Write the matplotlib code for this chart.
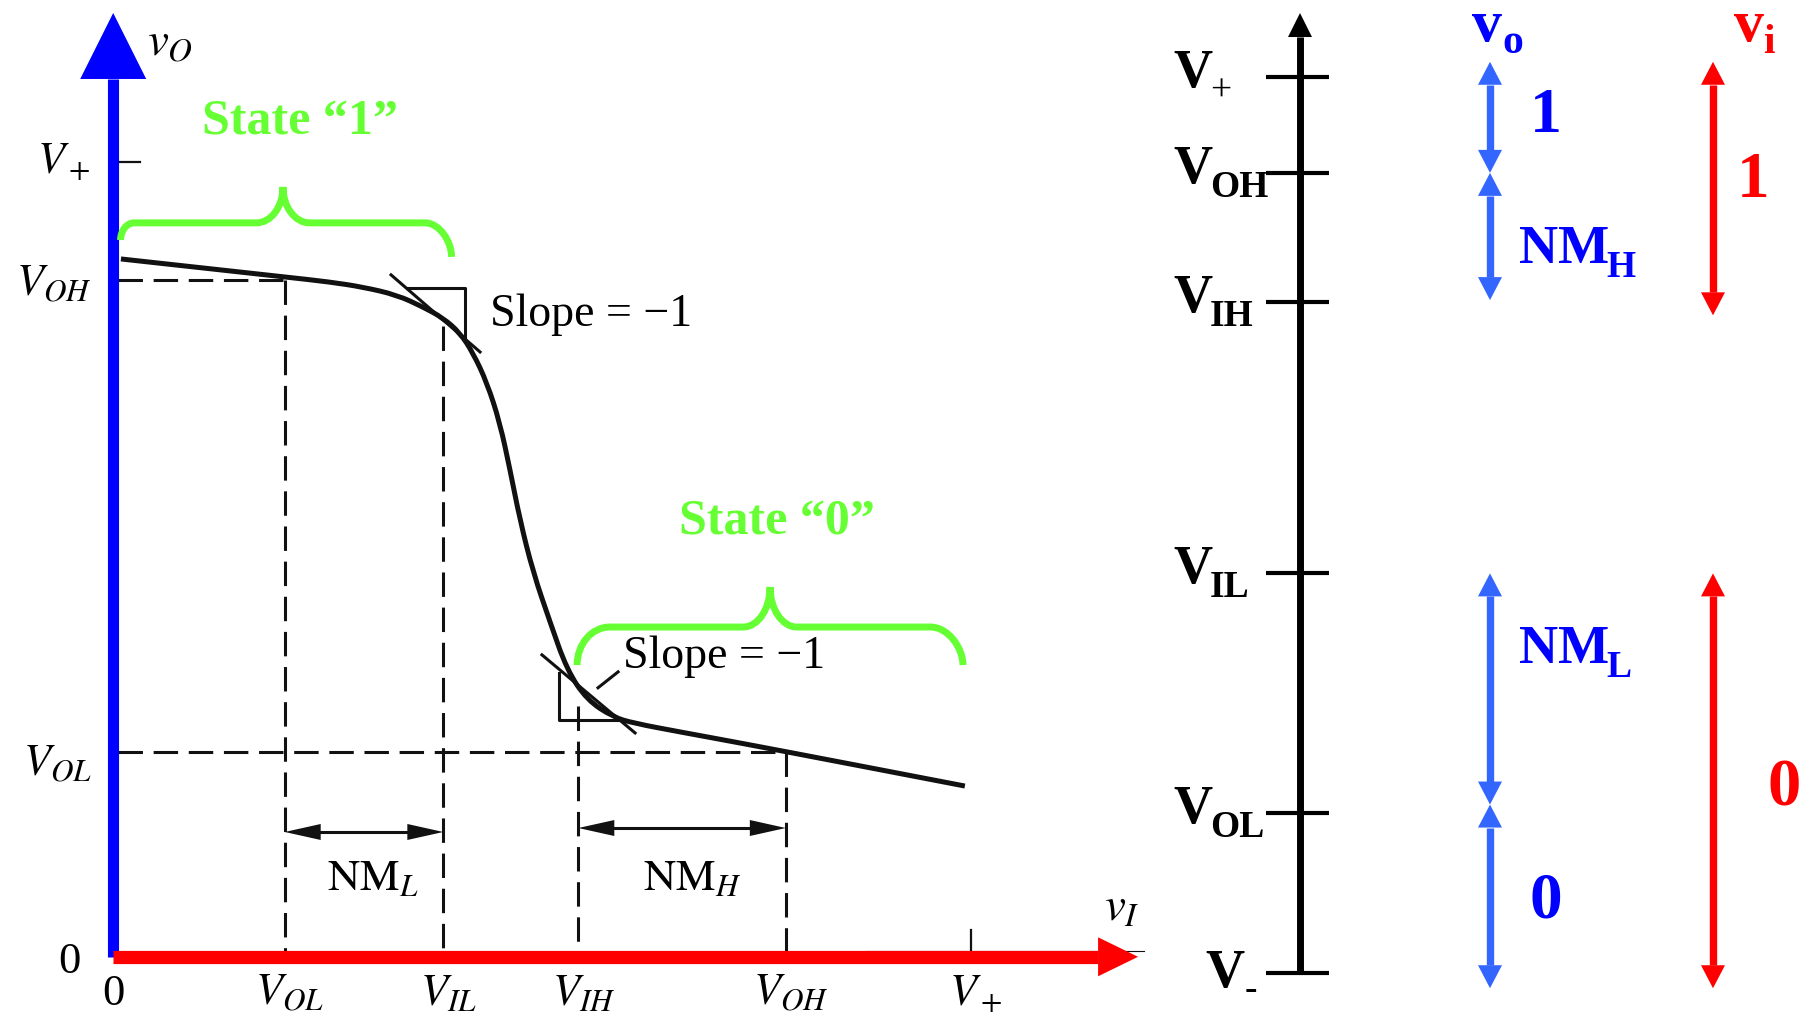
import matplotlib
matplotlib.use('Agg')
import matplotlib.pyplot as plt
from matplotlib.path import Path
from matplotlib.patches import PathPatch

plt.rcParams['mathtext.fontset'] = 'stix'

# ---------------- data: transfer characteristic (volts, V+ = 5) ----------------
V_PLUS = 5.0
V_OL_X, V_IL, V_IH, V_OH_X = 1.0, 1.925, 2.712, 3.922
V_OH_Y, V_OL_Y = 4.257, 1.285

curve_vi = [0.045, 1.008, 1.264, 1.457, 1.655, 1.806, 1.923, 2.022, 2.098, 2.180, 2.255, 2.314,
            2.372, 2.448, 2.547, 2.646, 2.763, 2.915, 3.032, 3.306, 3.655, 4.239, 4.966]
curve_vo = [4.389, 4.275, 4.244, 4.212, 4.162, 4.087, 4.018, 3.924, 3.798, 3.609, 3.357, 3.062,
            2.747, 2.420, 2.106, 1.804, 1.615, 1.508, 1.470, 1.414, 1.345, 1.225, 1.074]

x_tick_pos = [0.0, V_OL_X, V_IL, V_IH, V_OH_X, V_PLUS]
x_tick_labels = ['0', r'$V_{OL}$', r'$V_{IL}$', r'$V_{IH}$', r'$V_{OH}$', r'$V_+$']
y_tick_pos = [0.0, V_OL_Y, V_OH_Y, V_PLUS]
y_tick_labels = ['0', r'$V_{OL}$', r'$V_{OH}$', r'$V_+$']

# slope = -1 construction
tan_up_x, tan_up_y = [1.620, 2.139], [4.289, 3.804]
sq_up_x, sq_up_y = [1.713, 2.051, 2.051], [4.206, 4.206, 3.899]
tan_lo_x, tan_lo_y = [2.50, 3.043], [1.899, 1.408]
sq_lo_x, sq_lo_y = [2.601, 2.601, 2.955], [1.783, 1.489, 1.489]
leader_x, leader_y = [2.827, 2.944], [1.692, 1.792]

# dashed guide lines: (x0, y0, x1, y1)
dashed = [(0.03, V_OH_Y, V_OL_X, V_OH_Y),
          (0.03, V_OL_Y, V_OH_X, V_OL_Y),
          (V_OL_X, V_OH_Y, V_OL_X, 0.0),
          (V_IL, 3.97, V_IL, 0.0),
          (V_IH, 1.58, V_IH, 0.0),
          (V_OH_X, V_OL_Y, V_OH_X, 0.0)]

# ---------------- data: level diagram (arbitrary units, V- = 0, V+ = 10) ----------------
level_main = ['V', 'V', 'V', 'V', 'V', 'V']
level_subs = ['+', 'OH', 'IH', 'IL', 'OL', '-']
level_vals = [10.0, 8.93, 7.49, 4.46, 1.79, 0.0]
blue_spans = [(10.17, 8.93), (8.93, 7.51), (4.46, 1.88), (1.88, -0.17)]
red_spans = [(10.17, 7.34), (4.46, -0.17)]

# ---------------- figure ----------------
W, H = 1812, 1021
fig = plt.figure(figsize=(W / 100, H / 100), dpi=100)

axL = fig.add_axes([0, 0, 1, 1])
SX, SY = 171.5, 159.0          # px per volt
X0, Y0 = 113.2, 956.8          # origin in px (from left / top)
axL.set_xlim(-X0 / SX, (W - X0) / SX)
axL.set_ylim(-(H - Y0) / SY, Y0 / SY)
axL.axis('off')

axR = fig.add_axes([0, 0, 1, 1])
axR.patch.set_alpha(0)
RY0, RSY = 973.0, 89.6
axR.set_xlim(0, W)
axR.set_ylim(-(H - RY0) / RSY, RY0 / RSY)
axR.axis('off')


def head(ax, tip, d, length, halfw, color, sx, sy):
    tx, ty = tip
    dx, dy = d
    bx, by = tx - dx * length / sx, ty - dy * length / sy
    nx, ny = -dy, dx
    ax.fill([tx, bx + nx * halfw / sx, bx - nx * halfw / sx],
            [ty, by + ny * halfw / sy, by - ny * halfw / sy], color=color, lw=0, zorder=6)
    return bx, by


def brace(ax, x0, y0, x1, y1, yh, xp, yp, r0, r1, rp, **kw):
    k = 0.552
    verts = [(x0, y0),
             (x0, y0 + k * (yh - y0)), (x0 + r0 - k * r0, yh), (x0 + r0, yh),
             (xp - rp, yh),
             (xp - rp + k * rp, yh), (xp, yp - k * (yp - yh)), (xp, yp),
             (xp, yp - k * (yp - yh)), (xp + rp - k * rp, yh), (xp + rp, yh),
             (x1 - r1, yh),
             (x1 - r1 + k * r1, yh), (x1, yh - k * (yh - y1)), (x1, y1)]
    codes = [Path.MOVETO] + [Path.CURVE4] * 3 + [Path.LINETO] + [Path.CURVE4] * 6 + \
            [Path.LINETO] + [Path.CURVE4] * 3
    ax.add_patch(PathPatch(Path(verts, codes), fill=False, capstyle='butt', **kw))


def smooth_path(xs, ys):
    pts = list(zip(xs, ys))
    verts, codes = [pts[0]], [Path.MOVETO]
    n = len(pts)
    for i in range(1, n - 1):
        end = pts[-1] if i == n - 2 else ((pts[i][0] + pts[i + 1][0]) / 2,
                                           (pts[i][1] + pts[i + 1][1]) / 2)
        verts += [pts[i], end]
        codes += [Path.CURVE3, Path.CURVE3]
    return Path(verts, codes)


GREEN = '#66ff33'
serif = 'Liberation Serif'
INK = '#111111'

# dashed lines
for x0, y0, x1, y1 in dashed:
    axL.plot([x0, x1], [y0, y1], color=INK, lw=2.2, ls=(0, (8, 3.5)), zorder=2)

# curve
axL.add_patch(PathPatch(smooth_path(curve_vi, curve_vo), fill=False, edgecolor=INK,
                        lw=3.6, capstyle='butt', zorder=3))

# slope construction
for xs, ys in [(tan_up_x, tan_up_y), (sq_up_x, sq_up_y), (tan_lo_x, tan_lo_y),
               (sq_lo_x, sq_lo_y), (leader_x, leader_y)]:
    axL.plot(xs, ys, color=INK, lw=2.2, zorder=3)
axL.text(2.197, 4.037, 'Slope = \u22121', family=serif, fontsize=33, va='center', ha='left')
axL.text(2.973, 1.886, 'Slope = \u22121', family=serif, fontsize=33, va='center', ha='left')

# noise-margin arrows
for xa, xb, ya in [(V_OL_X, V_IL, 0.785), (V_IH, V_OH_X, 0.81)]:
    bl = head(axL, (xa, ya), (-1, 0), 36, 8, INK, SX, SY)
    br = head(axL, (xb, ya), (1, 0), 36, 8, INK, SX, SY)
    axL.plot([bl[0], br[0]], [ya, ya], color=INK, lw=2.2, zorder=5)
axL.text((V_OL_X + V_IL) / 2 + 0.05, 0.42, r'$\mathrm{NM}_L$', fontsize=32, ha='center', va='baseline')
axL.text((V_IH + V_OH_X) / 2 + 0.06, 0.42, r'$\mathrm{NM}_H$', fontsize=32, ha='center', va='baseline')

# thin original axis remnant and V+ ticks
axL.plot([4.39, 6.01], [0.035, 0.035], color=INK, lw=0.8, zorder=4)
axL.plot([V_PLUS, V_PLUS], [0, 0.17], color=INK, lw=1.6, zorder=4)
axL.plot([0, 0.155], [V_PLUS, V_PLUS], color=INK, lw=1.6, zorder=4)

# blue vertical axis
by = head(axL, (0, 5.936), (0, 1), 66, 33, '#0000ff', SX, SY)[1]
axL.plot([0, 0], [0, by], color='#0000ff', lw=8, solid_capstyle='butt', zorder=6)
# red horizontal axis
bx = head(axL, (5.976, 0), (1, 0), 40, 19.5, '#ff0000', SX, SY)[0]
axL.plot([0, bx], [0, 0], color='#ff0000', lw=9.5, solid_capstyle='butt', zorder=7)

# axis labels
axL.text(0.197, 5.672, r'$v_O$', fontsize=34, ha='left', va='baseline')
axL.text(5.78, 0.23, r'$v_I$', fontsize=34, ha='left', va='baseline')
y_offsets = [-0.10, -0.142, -0.10, -0.07]
y_right = [-0.19, -0.124, -0.124, -0.135]
for p, lab, off, xr in zip(y_tick_pos, y_tick_labels, y_offsets, y_right):
    axL.text(xr, p + off, lab, fontsize=32, ha='right', va='baseline', family=serif)
for p, lab in zip(x_tick_pos, x_tick_labels):
    dx = 0.0 if lab == '0' else 0.03
    axL.text(p + dx, -0.30, lab, fontsize=32, ha='center', va='baseline', family=serif)

# braces and state labels
brace(axL, 0.043, 4.508, 1.973, 4.402, 4.616, 0.99, 4.842, 0.08, 0.155, 0.155,
      lw=5, edgecolor=GREEN, zorder=8)
brace(axL, 2.705, 1.835, 4.955, 1.835, 2.074, 3.830, 2.326, 0.19, 0.19, 0.157,
      lw=5, edgecolor=GREEN, zorder=8)
axL.text(1.089, 5.181, 'State \u201c1\u201d', family=serif, weight='bold', fontsize=36,
         color=GREEN, ha='center', va='baseline')
axL.text(3.873, 2.664, 'State \u201c0\u201d', family=serif, weight='bold', fontsize=36,
         color=GREEN, ha='center', va='baseline')

# ---------------- right: level diagram ----------------
PX = 1.0 / RSY   # one pixel in level units
AX_X = 1300
by = head(axR, (AX_X, 10.714), (0, 1), 24, 12, 'black', 1, RSY)[1]
axR.plot([AX_X, AX_X], [0, by], color='black', lw=5, solid_capstyle='butt')
for v, m, s in zip(level_vals, level_main, level_subs):
    axR.plot([1266, 1329], [v, v], color='black', lw=3, solid_capstyle='butt')
    if s == '-':
        axR.text(1205, v - 14 * PX, m, fontsize=39, family=serif, weight='bold',
                 ha='left', va='baseline')
        axR.text(1245, v - 26 * PX, s, fontsize=27, family=serif, weight='bold',
                 ha='left', va='baseline')
    else:
        axR.text(1173, v - 10 * PX, m, fontsize=39, family=serif, weight='bold',
                 ha='left', va='baseline')
        axR.text(1210, v - 24 * PX, s, fontsize=27, family=serif,
                 weight='normal' if s == '+' else 'bold', ha='left', va='baseline')


def vspan(x, top, bot, color):
    bt = head(axR, (x, top), (0, 1), 23, 12, color, 1, RSY)[1]
    bb = head(axR, (x, bot), (0, -1), 23, 12, color, 1, RSY)[1]
    axR.plot([x, x], [bb, bt], color=color, lw=5.3, solid_capstyle='butt')


BLUE_A, BLUE_T, RED = '#3366ff', '#0000ff', '#ff0000'
for (t, b) in blue_spans:
    vspan(1490, t, b, BLUE_A)
for (t, b) in red_spans:
    vspan(1713, t, b, RED)

bold = dict(family=serif, weight='bold', ha='left', va='baseline')
# blue state / margin labels
axR.text(1530, 9.386, '1', fontsize=46, color=BLUE_T, **bold)
axR.text(1529, 0.625, '0', fontsize=47, color=BLUE_T, **bold)
axR.text(1519, 7.924, 'NM', fontsize=39, color=BLUE_T, **bold)
axR.text(1606, 7.924 - 14 * PX, 'H', fontsize=27, color=BLUE_T, **bold)
axR.text(1519, 3.46, 'NM', fontsize=39, color=BLUE_T, **bold)
axR.text(1606, 3.46 - 14 * PX, 'L', fontsize=27, color=BLUE_T, **bold)
# red labels
axR.text(1737, 8.66, '1', fontsize=47, color=RED, **bold)
axR.text(1768, 1.875, '0', fontsize=48, color=RED, **bold)

# headers v_o, v_i
axR.text(1472, (RY0 - 41) / RSY, 'v', fontsize=43, color=BLUE_T, **bold)
axR.text(1502, (RY0 - 53) / RSY, 'o', fontsize=30, color=BLUE_T, **bold)
axR.text(1734, (RY0 - 41) / RSY, 'v', fontsize=43, color=RED, **bold)
axR.text(1763, (RY0 - 53) / RSY, 'i', fontsize=30, color=RED, **bold)

fig.savefig('out.png', dpi=100)
